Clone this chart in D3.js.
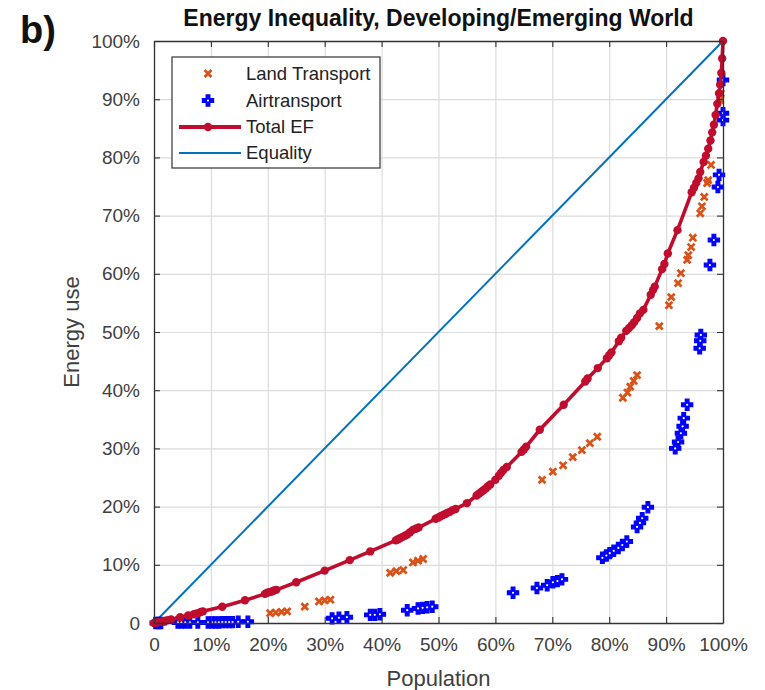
<!DOCTYPE html>
<html><head><meta charset="utf-8">
<script src="https://cdn.jsdelivr.net/npm/d3@7/dist/d3.min.js"></script>
<style>body{margin:0;background:#fff}svg{display:block}text{font-family:"Liberation Sans",Arial,sans-serif}</style>
</head><body>
<svg id="c" width="765" height="690"></svg>
<script>
// ---------- data (percent of population, percent of energy use) ----------
const ticks = [0,10,20,30,40,50,60,70,80,90,100];
const tickLabels = ["0","10%","20%","30%","40%","50%","60%","70%","80%","90%","100%"];
const seriesNames = ["Land Transport","Airtransport","Total EF","Equality"];

const totalX = [0,0.5,1,1.5,2,2.5,3,4.6,6,7,7.4,7.8,8.2,8.6,12,16,19.5,19.9,20.3,20.7,21.1,21.5,25,30,34.4,38,42.5,42.9,43.3,43.7,44.1,44.5,45,45.5,46,46.5,49.5,49.9,50.3,50.7,51.1,51.5,52,52.5,53,55,56.7,57.1,57.5,57.9,58.3,58.7,59.1,60,60.6,61,61.4,62,64.6,65,65.4,67.8,72,75.8,76.2,78,79.6,80,80.4,81.7,82.1,83,83.5,84,84.4,84.9,85.4,86,87.3,87.7,88,89.3,89.7,90.3,92,94.5,94.9,95.3,95.7,96,96.6,97,97.4,97.8,98.1,98.4,98.7,99,99.3,99.5,99.7,99.85,100];
const totalY = [0,0.1,0.2,0.3,0.4,0.5,0.6,1,1.3,1.5,1.6,1.7,1.9,2,2.8,3.9,5,5.2,5.3,5.4,5.6,5.7,7,9,10.8,12.3,14.2,14.4,14.6,14.8,15,15.2,15.6,16,16.2,16.4,17.9,18.1,18.3,18.5,18.7,18.9,19.1,19.4,19.6,20.6,21.9,22.2,22.5,22.8,23.1,23.5,23.8,24.6,25.3,25.8,26.3,26.8,29.4,29.8,30.3,33.2,37.5,41.5,42,43.8,45.5,46,46.5,48.4,49,50.2,50.7,51.2,51.7,52.4,53.2,53.8,56.4,57.2,57.8,60.8,61.7,63.5,67.5,74,74.8,75.6,76.4,77.5,79.2,80.3,81.5,82.9,84.3,85.6,87.3,89.2,91,92.5,94.5,97,100];

const landX = [20.4,21.4,22.4,23.4,26.5,29,30,31,41.5,42.6,43.8,45.5,46.4,47.3,68.2,70.1,71.9,73.6,75.2,76.6,77.9,82.4,83.2,83.7,84.3,84.9,88.8,90.5,90.9,92.1,92.6,93.7,93.9,94.4,94.7,96,96.3,96.7,97.2,97.4,97.9,99.5,99.6];
const landY = [1.7,1.8,1.9,2,2.8,3.7,3.9,4,8.6,8.9,9.1,10.4,10.7,11,24.6,26,27.1,28.5,29.7,30.9,32,38.7,39.6,40.6,41.6,42.6,51,54.6,56,58.4,60.1,62.4,63.2,64.6,66.2,70.4,71.6,73.2,75.6,76.1,78.7,89.9,91];

const airX = [0.3,0.8,1.2,4.2,4.8,5.5,6.3,7.7,9.5,10.2,10.8,11.4,12,12.6,13.2,13.8,14.8,16.5,31.3,32.5,33.9,38,38.8,39.7,44.5,46.4,47.2,48,48.9,63.1,67.3,69.1,70.1,70.9,71.7,78.8,79.5,80.1,80.8,81.6,82.3,83.1,84.9,85.4,85.8,86.8,91.6,92.1,92.6,92.9,93.1,93.7,95.9,96,96.1,97.7,98.4,99.1,99.3,100,100,100];
const airY = [0,0,0,0.1,0.1,0.1,0.1,0.1,0.1,0.1,0.1,0.1,0.15,0.15,0.15,0.15,0.2,0.2,0.8,0.9,1,1.4,1.4,1.5,2.2,2.5,2.6,2.7,2.8,5.2,6,6.5,7,7.2,7.5,11.2,11.6,12,12.4,12.9,13.4,14,16.5,17.2,18,19.9,30,31.1,32.6,33.8,35.2,37.5,47.2,48.5,49.5,61.5,65.8,74.9,77,86.4,87.6,93.3];

const eqX = [0,100];
const eqY = [0,100];

// ---------- colours ----------
const cLand = "#D95319", cAir = "#0000FF", cTotal = "#C00D2E", cEq = "#0072BD";
const axisCol = "#333333", textCol = "#404040", gridCol = "#dcdcdc";

const svg = d3.select("#c");
const L = 154, R = 723, T = 41, B = 623;
const x = d3.scaleLinear().domain([0,100]).range([L,R]);
const y = d3.scaleLinear().domain([0,100]).range([B,T]);
const fmt = d => tickLabels[ticks.indexOf(d)];

// grid
svg.append("g").attr("transform",`translate(0,${B})`)
  .call(d3.axisBottom(x).tickValues(ticks).tickSize(-(B-T)).tickFormat(""))
  .call(g=>{g.select(".domain").remove();g.selectAll("line").attr("stroke",gridCol).attr("stroke-width",1.2);});
svg.append("g").attr("transform",`translate(${L},0)`)
  .call(d3.axisLeft(y).tickValues(ticks).tickSize(-(R-L)).tickFormat(""))
  .call(g=>{g.select(".domain").remove();g.selectAll("line").attr("stroke",gridCol).attr("stroke-width",1.2);});

// equality
const line = d3.line().x(d=>x(d[0])).y(d=>y(d[1]));
svg.append("path").datum(d3.zip(eqX,eqY)).attr("d",line)
  .attr("fill","none").attr("stroke",cEq).attr("stroke-width",2);

// land transport: small x markers
const xSym = d3.symbol().type(d3.symbolX).size(32);
svg.append("g").selectAll("path").data(d3.zip(landX,landY)).join("path")
  .attr("d",xSym).attr("transform",d=>`translate(${x(d[0])},${y(d[1])})`)
  .attr("fill","none").attr("stroke",cLand).attr("stroke-width",2.8);

// air transport: thick plus markers
const plus = d3.symbol().type(d3.symbolCross).size(70);
const gAir = svg.append("g");
gAir.selectAll("path").data(d3.zip(airX,airY)).join("path")
  .attr("d",plus).attr("transform",d=>`translate(${x(d[0])},${y(d[1])})`)
  .attr("fill",cAir).attr("stroke",cAir).attr("stroke-width",1.2);
gAir.selectAll("circle").data(d3.zip(airX,airY)).join("circle")
  .attr("cx",d=>x(d[0])).attr("cy",d=>y(d[1])).attr("r",1.1).attr("fill","#fff");

// total EF
svg.append("path").datum(d3.zip(totalX,totalY)).attr("d",line)
  .attr("fill","none").attr("stroke",cTotal).attr("stroke-width",3.6);
svg.append("g").selectAll("circle").data(d3.zip(totalX,totalY)).join("circle")
  .attr("cx",d=>x(d[0])).attr("cy",d=>y(d[1])).attr("r",4.2).attr("fill",cTotal);

// axes (ticks inward)
function styleAx(g){g.select(".domain").attr("stroke",axisCol).attr("stroke-width",1.3);
  g.selectAll(".tick line").attr("stroke",axisCol).attr("stroke-width",1.1);
  g.selectAll("text").attr("fill",textCol).style("font-size","19px").style("font-family","'Liberation Sans',Arial,sans-serif");}
svg.append("g").attr("transform",`translate(0,${B})`)
  .call(d3.axisBottom(x).tickValues(ticks).tickSizeInner(-6).tickSizeOuter(0).tickPadding(15).tickFormat(fmt)).call(styleAx);
svg.append("g").attr("transform",`translate(${L},0)`)
  .call(d3.axisLeft(y).tickValues(ticks).tickSizeInner(-6).tickSizeOuter(0).tickPadding(14).tickFormat(fmt)).call(styleAx);
svg.append("g").attr("transform",`translate(0,${T})`)
  .call(d3.axisTop(x).tickValues(ticks).tickSizeInner(-6).tickSizeOuter(0).tickFormat("")).call(styleAx);
svg.append("g").attr("transform",`translate(${R},0)`)
  .call(d3.axisRight(y).tickValues(ticks).tickSizeInner(-6).tickSizeOuter(0).tickFormat("")).call(styleAx);

// titles
svg.append("text").attr("x",(L+R)/2).attr("y",26).attr("text-anchor","middle")
  .style("font-size","23px").style("font-weight","bold").attr("fill","#111").text("Energy Inequality, Developing/Emerging World");
svg.append("text").attr("x",20).attr("y",43).style("font-size","38px").style("font-weight","bold").attr("fill","#111").text("b)");
svg.append("text").attr("x",(L+R)/2).attr("y",686).attr("text-anchor","middle")
  .style("font-size","22px").attr("fill",textCol).text("Population");
svg.append("text").attr("transform",`translate(79,${(T+B)/2}) rotate(-90)`).attr("text-anchor","middle")
  .style("font-size","22px").attr("fill",textCol).text("Energy use");

// legend
const lg = svg.append("g");
lg.append("rect").attr("x",172).attr("y",57).attr("width",208).attr("height",111)
  .attr("fill","#fff").attr("stroke",axisCol).attr("stroke-width",1.2);
const rows = [73.5,100.5,127,153];
seriesNames.forEach((n,i)=>{
  lg.append("text").attr("x",246).attr("y",rows[i]).attr("dy","0.35em")
    .style("font-size","18.5px").attr("fill","#222").text(n);
});
lg.append("path").attr("d",xSym).attr("transform",`translate(208,${rows[0]})`)
  .attr("fill","none").attr("stroke",cLand).attr("stroke-width",2.8);
lg.append("path").attr("d",plus).attr("transform",`translate(208,${rows[1]})`)
  .attr("fill",cAir).attr("stroke",cAir).attr("stroke-width",1.2);
lg.append("circle").attr("cx",208).attr("cy",rows[1]).attr("r",1.1).attr("fill","#fff");
lg.append("line").attr("x1",179).attr("x2",241).attr("y1",rows[2]).attr("y2",rows[2])
  .attr("stroke",cTotal).attr("stroke-width",4);
lg.append("circle").attr("cx",208).attr("cy",rows[2]).attr("r",4.2).attr("fill",cTotal);
lg.append("line").attr("x1",179).attr("x2",241).attr("y1",rows[3]).attr("y2",rows[3])
  .attr("stroke",cEq).attr("stroke-width",2);
</script>
</body></html>
